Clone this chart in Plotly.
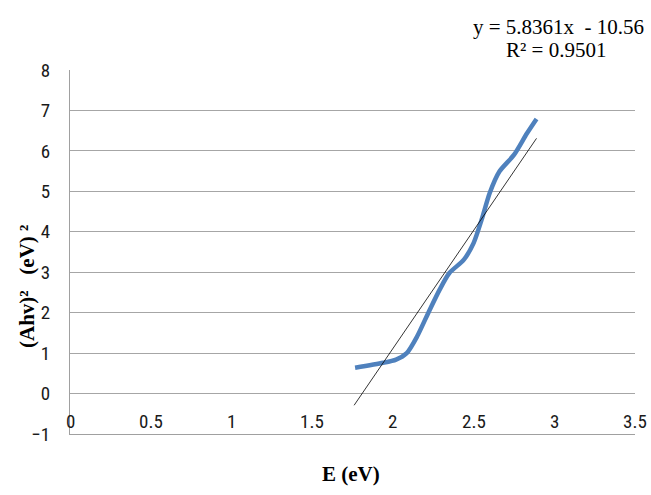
import plotly.graph_objects as go

energy_ev = [1.766, 1.94, 2.02, 2.086, 2.15, 2.22, 2.29, 2.35, 2.44, 2.50, 2.55, 2.60, 2.66, 2.75, 2.83, 2.89]
ahv_sq = [0.64, 0.76, 0.84, 1.00, 1.41, 2.00, 2.57, 2.98, 3.31, 3.72, 4.30, 4.96, 5.49, 5.90, 6.43, 6.79]

# Linear trendline end points (y = 5.8361x - 10.56)
trend_x = [1.76, 2.89]
trend_y = [-0.29, 6.31]

x_ticks = [0, 0.5, 1, 1.5, 2, 2.5, 3, 3.5]
x_tick_labels = ["0", "0.5", "1", "1.5", "2", "2.5", "3", "3.5"]
y_ticks = [-1, 0, 1, 2, 3, 4, 5, 6, 7, 8]

equation_line = "y = 5.8361x  - 10.56"
r2_line = "R² = 0.9501"
x_title = "<b>E (eV)</b>"
y_title = "<b>(Ahv)²   (eV) ²</b>"

tick_font = dict(family="Roboto Condensed, Carlito, sans-serif", size=19, color="#1a1a1a")
serif = "Liberation Serif, Times New Roman, serif"

fig = go.Figure()
fig.add_trace(go.Scatter(
    x=energy_ev, y=ahv_sq, mode="lines",
    line=dict(color="#4F81BD", width=4.5, shape="spline", smoothing=0.7),
    showlegend=False, hoverinfo="skip"))
fig.add_trace(go.Scatter(
    x=trend_x, y=trend_y, mode="lines",
    line=dict(color="#000000", width=0.8),
    showlegend=False, hoverinfo="skip"))

annotations = []
for v, t in zip(x_ticks, x_tick_labels):
    annotations.append(dict(text=t, x=v, y=-1, xref="x", yref="y", xanchor="center", yanchor="bottom",
                            yshift=-1, showarrow=False, font=tick_font))
annotations += [
    dict(text=x_title, xref="paper", yref="paper", x=0.497, y=-0.11, xanchor="center", yanchor="middle",
         showarrow=False, font=dict(family=serif, size=21, color="#000")),
    dict(text=y_title, xref="paper", yref="paper", x=-0.076, y=0.404, xanchor="center", yanchor="middle",
         textangle=-90, showarrow=False, font=dict(family=serif, size=21, color="#000")),
    dict(text=equation_line, xref="paper", yref="paper", x=0.864, y=1.0, yshift=43,
         xanchor="center", yanchor="middle", showarrow=False,
         font=dict(family=serif, size=21, color="#000")),
    dict(text=r2_line, xref="paper", yref="paper", x=0.86, y=1.0, yshift=20,
         xanchor="center", yanchor="middle", showarrow=False,
         font=dict(family=serif, size=21, color="#000")),
]

fig.update_layout(
    width=651, height=495,
    margin=dict(l=70, r=16, t=70, b=61, autoexpand=False),
    paper_bgcolor="white", plot_bgcolor="white",
    xaxis=dict(range=[0, 3.5], tickvals=x_ticks, showticklabels=False, automargin=False,
               showgrid=False, zeroline=False, showline=True,
               linecolor="#a0a0a0", linewidth=1, ticks=""),
    yaxis=dict(range=[-1, 8], tickvals=y_ticks, automargin=False,
               showgrid=True, gridcolor="#a6a6a6", gridwidth=1,
               zeroline=False, showline=True, linecolor="#a0a0a0", linewidth=1,
               ticks="", ticklabelstandoff=15, tickfont=tick_font),
    annotations=annotations,
)

fig.write_html("out.html", config={"displayModeBar": False},
               post_script="document.body.style.margin='0';document.body.style.overflow='hidden';")
